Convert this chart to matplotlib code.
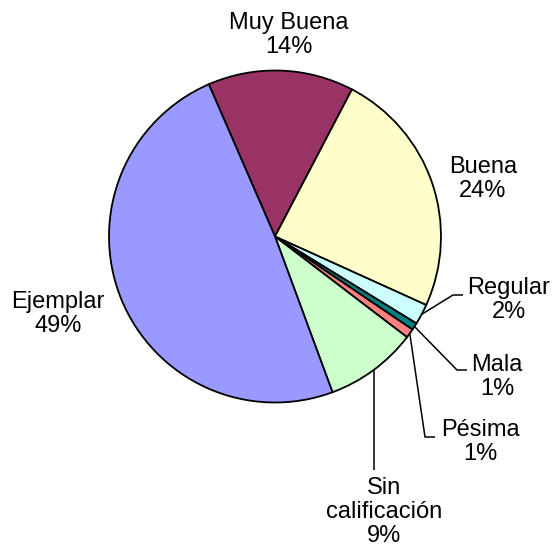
import numpy as np
import matplotlib
matplotlib.use("Agg")
import matplotlib.pyplot as plt

plt.rcParams['font.family'] = ['Liberation Sans', 'DejaVu Sans']

categories = ["Muy Buena", "Buena", "Regular", "Mala", "Pésima", "Sin\ncalificación", "Ejemplar"]
values = [14.2, 24.1, 2.0, 0.7, 0.9, 9.0, 49.1]
colors = ["#993366", "#FFFFCC", "#CCFFFF", "#008080", "#FF8080", "#CCFFCC", "#9999FF"]

W, H = 558, 554
fig = plt.figure(figsize=(W / 100, H / 100), dpi=100)
ax = fig.add_axes([0, 0, 1, 1])

cx, cy, R = 275, H - 236.5, 166
start = 113.5
wedges, _ = ax.pie(values, colors=colors, startangle=start, counterclock=False,
                   center=(cx, cy), radius=R, frame=True,
                   wedgeprops=dict(edgecolor='black', linewidth=1.3))
ax.set_xlim(0, W)
ax.set_ylim(0, H)
ax.axis('off')
ax.set_aspect('equal')

total = sum(values)
pct = [f"{round(v / total * 100)}%" for v in values]

# label positions in pixel coordinates (x, y from top)
label_pos = [(289, 35), (483, 179), (509, 300), (497, 377), (480, 442), (384, 512), (58, 314)]
# leader line elbows (None = no leader)
leaders = [None, None, [(453, 295), (463, 295)], [(457, 370), (467, 370)],
           [(425, 437), (435, 437)], 'vertical', None]

for i, (w, cat) in enumerate(zip(wedges, categories)):
    lx, ly = label_pos[i]
    ax.text(lx, H - ly, f"{cat}\n{pct[i]}", ha='center', va='center',
            fontsize=17, linespacing=1.1, multialignment='center')
    ld = leaders[i]
    if ld is None:
        continue
    mid = np.deg2rad((w.theta1 + w.theta2) / 2)
    px, py = cx + R * np.cos(mid), cy + R * np.sin(mid)
    if ld == 'vertical':
        xs, ys = [px, px], [py, H - 470]
    else:
        xs = [px] + [p[0] for p in ld]
        ys = [py] + [H - p[1] for p in ld]
    ax.plot(xs, ys, color='black', linewidth=1.1, solid_capstyle='butt')

fig.savefig("out.png", dpi=100)
